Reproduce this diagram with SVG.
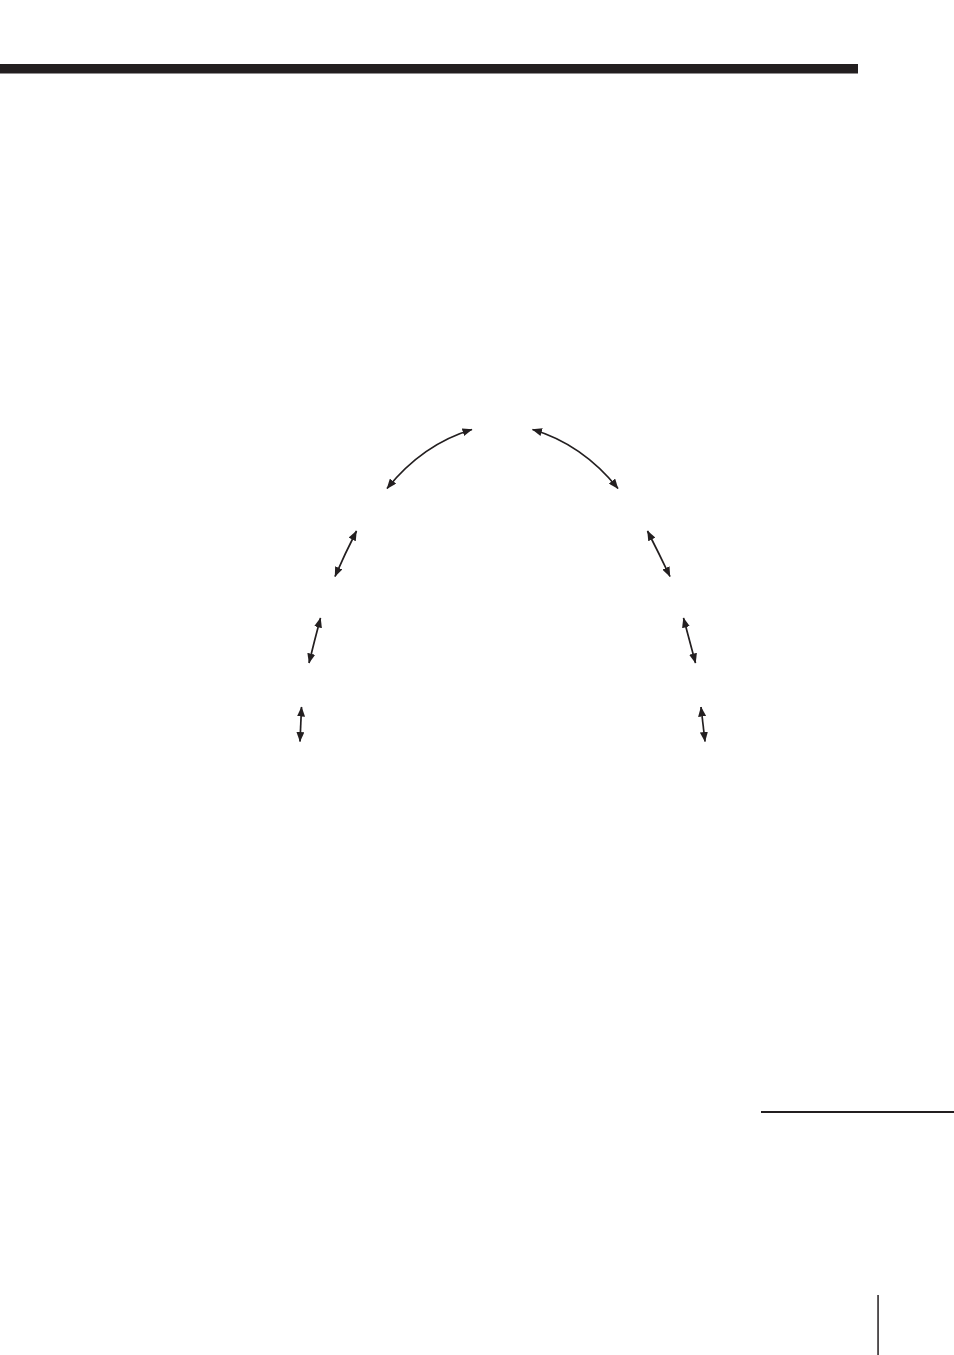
<svg xmlns="http://www.w3.org/2000/svg" width="954" height="1355" viewBox="0 0 954 1355">
  <style>
    .conn { fill: none; stroke: #231f20; stroke-width: 1.7; marker-start: url(#ah); marker-end: url(#ah); }
    .rule { fill: #231f20; }
  </style>
  <defs>
    <marker id="ah" viewBox="0 0 10 8" refX="9.5" refY="4" markerWidth="10" markerHeight="8" markerUnits="userSpaceOnUse" orient="auto-start-reverse">
      <path d="M0,0 L10,4 L0,8 z" fill="#231f20"/>
    </marker>
  </defs>
  <rect width="954" height="1355" fill="#ffffff"/>
  <g id="page-rules">
    <rect class="rule" x="0" y="64" width="858" height="9.5"/>
    <rect class="rule" x="761" y="1111" width="193" height="2"/>
    <rect class="rule" x="877.3" y="1295" width="1.5" height="60"/>
  </g>
  <g id="connectors">
    <path class="conn" d="M387,488.5 Q423,444 472,429.5"/>
    <path class="conn" d="M532.5,429.5 Q582,444 618,488.5"/>
    <path class="conn" d="M356.5,531 Q345.5,552.5 335,576.5"/>
    <path class="conn" d="M647.5,531 Q658.5,552.5 670,576.5"/>
    <path class="conn" d="M320.5,618 Q314.5,640.5 309,663"/>
    <path class="conn" d="M683.5,618 Q689.5,640.5 695.5,663"/>
    <path class="conn" d="M301.5,707 L300,741.5"/>
    <path class="conn" d="M701,707 L705,741.5"/>
  </g>
</svg>
